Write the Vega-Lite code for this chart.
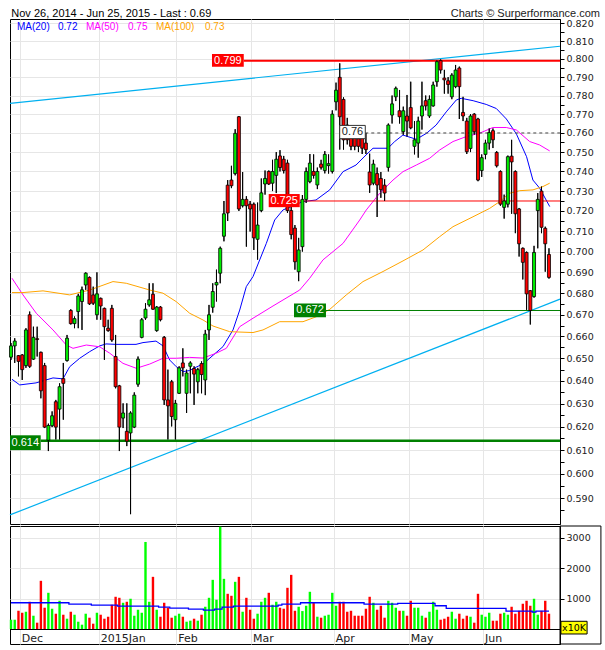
{
"$schema": "https://vega.github.io/schema/vega-lite/v6.json",
"background": "white",
"padding": {"left": 7, "top": 7, "right": 0, "bottom": 0},
"spacing": 0,
"config": {"view": {"stroke": "black", "strokeWidth": 1}, "text": {"font": "Liberation Sans"}, "scale": {"continuousPadding": 0}, "axis": {"labelOverlap": false}},
"datasets": {
"c": [
{"i":0,"o":0.6506,"h":0.657,"l":0.6494,"c":0.6557,"v":306,"m":863},
{"i":1,"o":0.6557,"h":0.6592,"l":0.648,"c":0.6579,"v":306,"m":863},
{"i":2,"o":0.6513,"h":0.6515,"l":0.642,"c":0.6487,"v":600,"m":863},
{"i":3,"o":0.6516,"h":0.652,"l":0.6404,"c":0.645,"v":535,"m":863},
{"i":4,"o":0.6468,"h":0.6638,"l":0.6458,"c":0.663,"v":568,"m":863},
{"i":5,"o":0.67,"h":0.6715,"l":0.6458,"c":0.6465,"v":896,"m":863},
{"i":6,"o":0.6497,"h":0.6645,"l":0.6494,"c":0.6596,"v":437,"m":863},
{"i":7,"o":0.659,"h":0.6645,"l":0.6509,"c":0.6586,"v":208,"m":863},
{"i":8,"o":0.6528,"h":0.6531,"l":0.6323,"c":0.6356,"v":1585,"m":863},
{"i":9,"o":0.6468,"h":0.648,"l":0.6194,"c":0.6198,"v":700,"m":863},
{"i":10,"o":0.6142,"h":0.6213,"l":0.6096,"c":0.6205,"v":1191,"m":863},
{"i":11,"o":0.6204,"h":0.6266,"l":0.6198,"c":0.6247,"v":667,"m":863},
{"i":12,"o":0.6308,"h":0.6316,"l":0.6145,"c":0.6198,"v":503,"m":863},
{"i":13,"o":0.6276,"h":0.6389,"l":0.6145,"c":0.6374,"v":929,"m":863},
{"i":14,"o":0.641,"h":0.648,"l":0.623,"c":0.6389,"v":470,"m":863},
{"i":15,"o":0.6491,"h":0.6607,"l":0.6486,"c":0.6592,"v":339,"m":863},
{"i":16,"o":0.672,"h":0.6726,"l":0.6655,"c":0.6659,"v":568,"m":820},
{"i":17,"o":0.6659,"h":0.6692,"l":0.6638,"c":0.6682,"v":470,"m":820},
{"i":18,"o":0.6715,"h":0.6798,"l":0.6638,"c":0.6788,"v":240,"m":820},
{"i":19,"o":0.6762,"h":0.6832,"l":0.663,"c":0.6817,"v":142,"m":820},
{"i":20,"o":0.684,"h":0.69,"l":0.6817,"c":0.6896,"v":503,"m":820},
{"i":21,"o":0.6876,"h":0.688,"l":0.6746,"c":0.6751,"v":372,"m":820},
{"i":22,"o":0.6793,"h":0.6832,"l":0.6746,"c":0.6754,"v":175,"m":787},
{"i":23,"o":0.67,"h":0.69,"l":0.6677,"c":0.6798,"v":535,"m":787},
{"i":24,"o":0.6777,"h":0.678,"l":0.6677,"c":0.6741,"v":470,"m":787},
{"i":25,"o":0.673,"h":0.6733,"l":0.6494,"c":0.6645,"v":339,"m":787},
{"i":26,"o":0.6638,"h":0.6677,"l":0.6622,"c":0.6627,"v":404,"m":787},
{"i":27,"o":0.673,"h":0.6746,"l":0.6576,"c":0.6584,"v":798,"m":787},
{"i":28,"o":0.6509,"h":0.6607,"l":0.6367,"c":0.6374,"v":1060,"m":787},
{"i":29,"o":0.6378,"h":0.6382,"l":0.6096,"c":0.6198,"v":1027,"m":754},
{"i":30,"o":0.6237,"h":0.6301,"l":0.6194,"c":0.6259,"v":863,"m":754},
{"i":31,"o":0.618,"h":0.6301,"l":0.6117,"c":0.6138,"v":896,"m":754},
{"i":32,"o":0.6173,"h":0.6266,"l":0.5835,"c":0.6259,"v":995,"m":754},
{"i":33,"o":0.6198,"h":0.6349,"l":0.6194,"c":0.6337,"v":437,"m":754},
{"i":34,"o":0.6385,"h":0.6509,"l":0.6374,"c":0.6497,"v":634,"m":754},
{"i":35,"o":0.6596,"h":0.6685,"l":0.6592,"c":0.6677,"v":535,"m":754},
{"i":36,"o":0.6685,"h":0.6754,"l":0.6677,"c":0.6726,"v":2863,"m":754},
{"i":37,"o":0.6746,"h":0.6848,"l":0.6738,"c":0.677,"v":896,"m":754},
{"i":38,"o":0.6796,"h":0.6848,"l":0.6723,"c":0.6726,"v":1716,"m":754},
{"i":39,"o":0.6627,"h":0.6741,"l":0.6622,"c":0.6736,"v":634,"m":754},
{"i":40,"o":0.6736,"h":0.6741,"l":0.667,"c":0.6677,"v":404,"m":721},
{"i":41,"o":0.6596,"h":0.6602,"l":0.6294,"c":0.6316,"v":863,"m":721},
{"i":42,"o":0.6316,"h":0.645,"l":0.6145,"c":0.629,"v":700,"m":721},
{"i":43,"o":0.6396,"h":0.6404,"l":0.6201,"c":0.6244,"v":372,"m":689},
{"i":44,"o":0.623,"h":0.6316,"l":0.6145,"c":0.6301,"v":437,"m":689},
{"i":45,"o":0.6345,"h":0.6465,"l":0.6342,"c":0.6458,"v":503,"m":689},
{"i":46,"o":0.648,"h":0.6546,"l":0.642,"c":0.6458,"v":404,"m":689},
{"i":47,"o":0.6345,"h":0.645,"l":0.6259,"c":0.6435,"v":240,"m":689},
{"i":48,"o":0.6465,"h":0.6487,"l":0.6345,"c":0.648,"v":273,"m":656},
{"i":49,"o":0.6455,"h":0.6465,"l":0.6294,"c":0.643,"v":339,"m":656},
{"i":50,"o":0.6396,"h":0.6458,"l":0.6345,"c":0.645,"v":273,"m":656},
{"i":51,"o":0.6477,"h":0.6487,"l":0.6345,"c":0.6428,"v":470,"m":656},
{"i":52,"o":0.6404,"h":0.663,"l":0.6337,"c":0.6611,"v":732,"m":623},
{"i":53,"o":0.663,"h":0.6746,"l":0.6584,"c":0.67,"v":1027,"m":623},
{"i":54,"o":0.6735,"h":0.6848,"l":0.671,"c":0.6809,"v":1617,"m":623},
{"i":55,"o":0.684,"h":0.6913,"l":0.6762,"c":0.6852,"v":962,"m":656},
{"i":56,"o":0.6896,"h":0.7024,"l":0.6848,"c":0.7016,"v":3366,"m":656},
{"i":57,"o":0.7075,"h":0.725,"l":0.705,"c":0.7186,"v":1650,"m":721},
{"i":58,"o":0.733,"h":0.7356,"l":0.715,"c":0.719,"v":1158,"m":721},
{"i":59,"o":0.7356,"h":0.7429,"l":0.7315,"c":0.7327,"v":1093,"m":721},
{"i":60,"o":0.7389,"h":0.762,"l":0.738,"c":0.7598,"v":1552,"m":754},
{"i":61,"o":0.7686,"h":0.769,"l":0.72,"c":0.721,"v":1716,"m":754},
{"i":62,"o":0.7226,"h":0.7397,"l":0.7218,"c":0.7258,"v":568,"m":754},
{"i":63,"o":0.7258,"h":0.7274,"l":0.7024,"c":0.7226,"v":1027,"m":754},
{"i":64,"o":0.7234,"h":0.725,"l":0.7098,"c":0.721,"v":634,"m":754},
{"i":65,"o":0.7234,"h":0.7242,"l":0.7008,"c":0.7067,"v":339,"m":754},
{"i":66,"o":0.706,"h":0.7242,"l":0.6961,"c":0.713,"v":503,"m":754},
{"i":67,"o":0.7202,"h":0.7364,"l":0.7194,"c":0.7291,"v":896,"m":754},
{"i":68,"o":0.7336,"h":0.7405,"l":0.7282,"c":0.7364,"v":1027,"m":754},
{"i":69,"o":0.74,"h":0.7405,"l":0.7331,"c":0.7336,"v":1191,"m":754},
{"i":70,"o":0.734,"h":0.746,"l":0.73,"c":0.74,"v":798,"m":754},
{"i":71,"o":0.738,"h":0.75,"l":0.729,"c":0.7463,"v":896,"m":754},
{"i":72,"o":0.748,"h":0.751,"l":0.74,"c":0.742,"v":700,"m":787},
{"i":73,"o":0.7463,"h":0.748,"l":0.739,"c":0.7405,"v":667,"m":820},
{"i":74,"o":0.7443,"h":0.746,"l":0.719,"c":0.7202,"v":1355,"m":820},
{"i":75,"o":0.7202,"h":0.7226,"l":0.706,"c":0.7083,"v":1781,"m":820},
{"i":76,"o":0.7115,"h":0.713,"l":0.6913,"c":0.6951,"v":600,"m":820},
{"i":77,"o":0.6903,"h":0.7067,"l":0.6858,"c":0.7008,"v":732,"m":820},
{"i":78,"o":0.7024,"h":0.728,"l":0.7,"c":0.7258,"v":590,"m":863},
{"i":79,"o":0.7258,"h":0.742,"l":0.724,"c":0.74,"v":765,"m":863},
{"i":80,"o":0.7348,"h":0.749,"l":0.734,"c":0.7443,"v":1224,"m":863},
{"i":81,"o":0.74,"h":0.7488,"l":0.7364,"c":0.738,"v":863,"m":863},
{"i":82,"o":0.7331,"h":0.742,"l":0.731,"c":0.74,"v":404,"m":863},
{"i":83,"o":0.7438,"h":0.746,"l":0.741,"c":0.7421,"v":372,"m":863},
{"i":84,"o":0.7405,"h":0.7505,"l":0.739,"c":0.7488,"v":437,"m":863},
{"i":85,"o":0.743,"h":0.7488,"l":0.7389,"c":0.744,"v":470,"m":863},
{"i":86,"o":0.74,"h":0.772,"l":0.739,"c":0.77,"v":1191,"m":863},
{"i":87,"o":0.7766,"h":0.787,"l":0.772,"c":0.7829,"v":765,"m":863},
{"i":88,"o":0.7899,"h":0.7976,"l":0.7513,"c":0.7686,"v":896,"m":863},
{"i":89,"o":0.7779,"h":0.779,"l":0.7513,"c":0.7564,"v":896,"m":863},
{"i":90,"o":0.7642,"h":0.768,"l":0.754,"c":0.7564,"v":568,"m":863},
{"i":91,"o":0.7581,"h":0.76,"l":0.751,"c":0.753,"v":600,"m":863},
{"i":92,"o":0.7581,"h":0.762,"l":0.751,"c":0.753,"v":437,"m":863},
{"i":93,"o":0.757,"h":0.76,"l":0.75,"c":0.753,"v":437,"m":863},
{"i":94,"o":0.758,"h":0.762,"l":0.749,"c":0.752,"v":437,"m":863},
{"i":95,"o":0.7547,"h":0.76,"l":0.749,"c":0.7513,"v":667,"m":820},
{"i":96,"o":0.7397,"h":0.7492,"l":0.7291,"c":0.7331,"v":1060,"m":820},
{"i":97,"o":0.734,"h":0.746,"l":0.733,"c":0.7438,"v":863,"m":820},
{"i":98,"o":0.7389,"h":0.742,"l":0.717,"c":0.7331,"v":634,"m":820},
{"i":99,"o":0.7364,"h":0.7397,"l":0.7266,"c":0.7307,"v":765,"m":820},
{"i":100,"o":0.733,"h":0.736,"l":0.725,"c":0.729,"v":372,"m":820},
{"i":101,"o":0.7421,"h":0.765,"l":0.74,"c":0.7642,"v":929,"m":820},
{"i":102,"o":0.7695,"h":0.78,"l":0.765,"c":0.7755,"v":863,"m":820},
{"i":103,"o":0.7793,"h":0.7848,"l":0.777,"c":0.7839,"v":700,"m":820},
{"i":104,"o":0.7718,"h":0.783,"l":0.765,"c":0.7686,"v":600,"m":841},
{"i":105,"o":0.7607,"h":0.774,"l":0.759,"c":0.7718,"v":600,"m":841},
{"i":106,"o":0.769,"h":0.7803,"l":0.7581,"c":0.7663,"v":437,"m":841},
{"i":107,"o":0.7735,"h":0.7875,"l":0.762,"c":0.7627,"v":929,"m":841},
{"i":108,"o":0.753,"h":0.7663,"l":0.7488,"c":0.7564,"v":700,"m":841},
{"i":109,"o":0.7547,"h":0.7686,"l":0.7471,"c":0.7663,"v":700,"m":841},
{"i":110,"o":0.769,"h":0.7875,"l":0.7618,"c":0.7744,"v":437,"m":841},
{"i":111,"o":0.7772,"h":0.78,"l":0.772,"c":0.7744,"v":372,"m":841},
{"i":112,"o":0.769,"h":0.78,"l":0.768,"c":0.7779,"v":568,"m":841},
{"i":113,"o":0.7744,"h":0.7875,"l":0.774,"c":0.7857,"v":896,"m":841},
{"i":114,"o":0.7875,"h":0.7994,"l":0.7848,"c":0.7985,"v":634,"m":765},
{"i":115,"o":0.7991,"h":0.7998,"l":0.792,"c":0.7939,"v":306,"m":765},
{"i":116,"o":0.7895,"h":0.794,"l":0.781,"c":0.7885,"v":339,"m":765},
{"i":117,"o":0.788,"h":0.79,"l":0.781,"c":0.786,"v":404,"m":678},
{"i":118,"o":0.7793,"h":0.7921,"l":0.778,"c":0.7911,"v":568,"m":678},
{"i":119,"o":0.7848,"h":0.7967,"l":0.784,"c":0.7939,"v":339,"m":678},
{"i":120,"o":0.795,"h":0.7958,"l":0.7674,"c":0.7848,"v":503,"m":678},
{"i":121,"o":0.7709,"h":0.7793,"l":0.7663,"c":0.769,"v":339,"m":678},
{"i":122,"o":0.7663,"h":0.768,"l":0.749,"c":0.7502,"v":437,"m":678},
{"i":123,"o":0.7519,"h":0.77,"l":0.75,"c":0.769,"v":404,"m":678},
{"i":124,"o":0.77,"h":0.7705,"l":0.759,"c":0.7607,"v":208,"m":678},
{"i":125,"o":0.7674,"h":0.768,"l":0.735,"c":0.7356,"v":1158,"m":678},
{"i":126,"o":0.7405,"h":0.7488,"l":0.7372,"c":0.7471,"v":470,"m":678},
{"i":127,"o":0.7488,"h":0.7564,"l":0.7463,"c":0.7547,"v":404,"m":678},
{"i":128,"o":0.7547,"h":0.7624,"l":0.7513,"c":0.7602,"v":535,"m":678},
{"i":129,"o":0.7612,"h":0.7624,"l":0.7521,"c":0.7564,"v":273,"m":678},
{"i":130,"o":0.7498,"h":0.7505,"l":0.7421,"c":0.7429,"v":273,"m":678},
{"i":131,"o":0.74,"h":0.7405,"l":0.7226,"c":0.7234,"v":503,"m":678},
{"i":132,"o":0.7218,"h":0.7282,"l":0.7162,"c":0.725,"v":535,"m":678},
{"i":133,"o":0.7234,"h":0.7482,"l":0.7218,"c":0.7476,"v":470,"m":590},
{"i":134,"o":0.7479,"h":0.7564,"l":0.7186,"c":0.7449,"v":732,"m":590},
{"i":135,"o":0.74,"h":0.7405,"l":0.709,"c":0.7186,"v":503,"m":590},
{"i":136,"o":0.721,"h":0.7215,"l":0.6976,"c":0.7038,"v":600,"m":590},
{"i":137,"o":0.7016,"h":0.702,"l":0.6866,"c":0.6948,"v":831,"m":590},
{"i":138,"o":0.6996,"h":0.7,"l":0.6723,"c":0.6798,"v":929,"m":590},
{"i":139,"o":0.6813,"h":0.6815,"l":0.6655,"c":0.672,"v":765,"m":590},
{"i":140,"o":0.6785,"h":0.7028,"l":0.678,"c":0.6996,"v":995,"m":557},
{"i":141,"o":0.7202,"h":0.729,"l":0.7016,"c":0.7258,"v":470,"m":590},
{"i":142,"o":0.73,"h":0.7323,"l":0.709,"c":0.7119,"v":600,"m":590},
{"i":143,"o":0.7114,"h":0.7122,"l":0.6903,"c":0.7038,"v":929,"m":590},
{"i":144,"o":0.6986,"h":0.7016,"l":0.687,"c":0.6876,"v":503,"m":590}
],
"ma": [
{"s":"MA20","i":0.27,"p":0.6407},{"s":"MA20","i":2.33,"p":0.6382},{"s":"MA20","i":6.69,"p":0.6391},{"s":"MA20","i":11.24,"p":0.6413},{"s":"MA20","i":13.92,"p":0.6409},{"s":"MA20","i":15.71,"p":0.6463},{"s":"MA20","i":18.39,"p":0.6501},{"s":"MA20","i":21.07,"p":0.6531},{"s":"MA20","i":23.74,"p":0.6557},{"s":"MA20","i":25.43,"p":0.6566},{"s":"MA20","i":28.1,"p":0.6564},{"s":"MA20","i":33.46,"p":0.6564},{"s":"MA20","i":35.33,"p":0.6572},{"s":"MA20","i":38.81,"p":0.6579},{"s":"MA20","i":40.69,"p":0.6557},{"s":"MA20","i":42.48,"p":0.6493},{"s":"MA20","i":44.25,"p":0.6463},{"s":"MA20","i":46.04,"p":0.6441},{"s":"MA20","i":47.83,"p":0.6446},{"s":"MA20","i":49.52,"p":0.6461},{"s":"MA20","i":51.39,"p":0.6475},{"s":"MA20","i":56.75,"p":0.6554},{"s":"MA20","i":59.42,"p":0.663},{"s":"MA20","i":61.22,"p":0.6722},{"s":"MA20","i":62.98,"p":0.6832},{"s":"MA20","i":64.78,"p":0.688},{"s":"MA20","i":66.57,"p":0.696},{"s":"MA20","i":68.34,"p":0.704},{"s":"MA20","i":70.58,"p":0.7155},{"s":"MA20","i":72.8,"p":0.7205},{"s":"MA20","i":78.16,"p":0.7247},{"s":"MA20","i":81.64,"p":0.7255},{"s":"MA20","i":85.31,"p":0.7306},{"s":"MA20","i":88.87,"p":0.7399},{"s":"MA20","i":92.35,"p":0.7433},{"s":"MA20","i":95.02,"p":0.7485},{"s":"MA20","i":96.9,"p":0.752},{"s":"MA20","i":100.9,"p":0.752},{"s":"MA20","i":102.7,"p":0.7555},{"s":"MA20","i":104.9,"p":0.7589},{"s":"MA20","i":108.5,"p":0.7567},{"s":"MA20","i":111.2,"p":0.7598},{"s":"MA20","i":113.8,"p":0.7642},{"s":"MA20","i":116.5,"p":0.7712},{"s":"MA20","i":119.2,"p":0.7776},{"s":"MA20","i":120.5,"p":0.7785},{"s":"MA20","i":123.7,"p":0.7772},{"s":"MA20","i":127.2,"p":0.7752},{"s":"MA20","i":129.9,"p":0.773},{"s":"MA20","i":132.6,"p":0.7674},{"s":"MA20","i":135.3,"p":0.7594},{"s":"MA20","i":138.0,"p":0.7476},{"s":"MA20","i":139.7,"p":0.7356},{"s":"MA20","i":141.5,"p":0.7315},{"s":"MA20","i":144.2,"p":0.7222},
{"s":"MA50","i":0.27,"p":0.6872},{"s":"MA50","i":3.21,"p":0.6793},{"s":"MA50","i":6.77,"p":0.6707},{"s":"MA50","i":11.24,"p":0.663},{"s":"MA50","i":14.8,"p":0.6561},{"s":"MA50","i":16.6,"p":0.6546},{"s":"MA50","i":20.16,"p":0.6561},{"s":"MA50","i":23.74,"p":0.6553},{"s":"MA50","i":26.42,"p":0.6524},{"s":"MA50","i":29.98,"p":0.6478},{"s":"MA50","i":33.54,"p":0.6456},{"s":"MA50","i":37.13,"p":0.6475},{"s":"MA50","i":40.69,"p":0.6501},{"s":"MA50","i":44.25,"p":0.6501},{"s":"MA50","i":47.83,"p":0.6505},{"s":"MA50","i":51.39,"p":0.6502},{"s":"MA50","i":54.95,"p":0.6524},{"s":"MA50","i":57.63,"p":0.6546},{"s":"MA50","i":61.22,"p":0.6645},{"s":"MA50","i":64.78,"p":0.6684},{"s":"MA50","i":70.13,"p":0.6741},{"s":"MA50","i":77.27,"p":0.6816},{"s":"MA50","i":79.95,"p":0.6872},{"s":"MA50","i":83.51,"p":0.696},{"s":"MA50","i":88.87,"p":0.704},{"s":"MA50","i":93.34,"p":0.7155},{"s":"MA50","i":95.1,"p":0.7205},{"s":"MA50","i":98.69,"p":0.7289},{"s":"MA50","i":102.25,"p":0.7356},{"s":"MA50","i":104.93,"p":0.7399},{"s":"MA50","i":108.5,"p":0.7433},{"s":"MA50","i":112.07,"p":0.7468},{"s":"MA50","i":114.75,"p":0.7511},{"s":"MA50","i":118.31,"p":0.7555},{"s":"MA50","i":121.87,"p":0.7581},{"s":"MA50","i":125.46,"p":0.7599},{"s":"MA50","i":129.0,"p":0.7629},{"s":"MA50","i":132.57,"p":0.7629},{"s":"MA50","i":135.25,"p":0.7616},{"s":"MA50","i":138.84,"p":0.7555},{"s":"MA50","i":141.51,"p":0.7537},{"s":"MA50","i":144.19,"p":0.7506},
{"s":"MA100","i":0.27,"p":0.6804},{"s":"MA100","i":3.21,"p":0.6804},{"s":"MA100","i":8.57,"p":0.6812},{"s":"MA100","i":15.71,"p":0.6793},{"s":"MA100","i":21.07,"p":0.6816},{"s":"MA100","i":27.3,"p":0.6856},{"s":"MA100","i":30.86,"p":0.6848},{"s":"MA100","i":37.13,"p":0.6816},{"s":"MA100","i":40.69,"p":0.6801},{"s":"MA100","i":44.25,"p":0.6761},{"s":"MA100","i":47.83,"p":0.6707},{"s":"MA100","i":51.39,"p":0.6676},{"s":"MA100","i":54.07,"p":0.6648},{"s":"MA100","i":58.54,"p":0.6622},{"s":"MA100","i":64.78,"p":0.6618},{"s":"MA100","i":67.45,"p":0.663},{"s":"MA100","i":71.92,"p":0.6668},{"s":"MA100","i":78.16,"p":0.6668},{"s":"MA100","i":81.72,"p":0.6691},{"s":"MA100","i":85.31,"p":0.6725},{"s":"MA100","i":89.75,"p":0.6793},{"s":"MA100","i":94.22,"p":0.6856},{"s":"MA100","i":99.57,"p":0.6904},{"s":"MA100","i":104.93,"p":0.6955},{"s":"MA100","i":110.28,"p":0.7008},{"s":"MA100","i":114.75,"p":0.7073},{"s":"MA100","i":118.31,"p":0.7122},{"s":"MA100","i":123.66,"p":0.7171},{"s":"MA100","i":128.13,"p":0.7213},{"s":"MA100","i":130.81,"p":0.7247},{"s":"MA100","i":133.48,"p":0.7289},{"s":"MA100","i":136.16,"p":0.7302},{"s":"MA100","i":139.72,"p":0.7306},{"s":"MA100","i":142.4,"p":0.7323},{"s":"MA100","i":144.19,"p":0.734}
]
},
"vconcat": [
{
"width": 550, "height": 505,
"layer": [
{"data": {"name": "c"}, "mark": {"type": "rule", "color": "black", "strokeWidth": 1},
 "encoding": {
  "x": {"field": "i", "type": "quantitative", "scale": {"domain": [-0.268, 146.95], "nice": false, "zero": false, "padding": 0},
   "axis": {"values": [2.33, 23.47, 44.25, 64.24, 86.38, 106.45, 126.34], "grid": true, "gridColor": "#e6e6e6", "labels": false, "ticks": false, "domain": false, "title": null}},
  "y": {"field": "l", "type": "quantitative", "scale": {"type": "log", "domain": [0.57954, 0.82249], "nice": false, "padding": 0},
   "axis": {"orient": "right", "title": null,
    "values": [0.585,0.59,0.595,0.6,0.605,0.61,0.615,0.62,0.625,0.63,0.635,0.64,0.645,0.65,0.655,0.66,0.665,0.67,0.675,0.68,0.685,0.69,0.695,0.7,0.705,0.71,0.715,0.72,0.725,0.73,0.735,0.74,0.745,0.75,0.755,0.76,0.765,0.77,0.775,0.78,0.785,0.79,0.795,0.8,0.805,0.81,0.815,0.82],
    "grid": true, "gridColor": "#e6e6e6",
    "gridOpacity": {"condition": {"test": "round(datum.value*200)%2==0", "value": 1}, "value": 0},
    "labelExpr": "round(datum.value*200)%2==0 ? format(datum.value, '.3f') : ''",
    "tickSize": 4, "tickColor": "black", "domainColor": "black", "labelFont": "DejaVu Sans", "labelFontSize": 9.5, "labelColor": "#222", "labelPadding": 2, "labelOverlap": false, "labelFlush": false, "labelBound": false}},
  "y2": {"field": "h"}}},
{"data": {"values": [{}]}, "mark": {"type": "rule", "color": "#00b0f0", "strokeWidth": 1.2},
 "encoding": {"x": {"datum": -0.268}, "y": {"datum": 0.7758}, "x2": {"datum": 146.95}, "y2": {"datum": 0.8071}}},
{"data": {"values": [{}]}, "mark": {"type": "rule", "color": "#00b0f0", "strokeWidth": 1.2},
 "encoding": {"x": {"datum": -0.268}, "y": {"datum": 0.5832}, "x2": {"datum": 146.95}, "y2": {"datum": 0.6773}}},
{"data": {"name": "ma"}, "mark": {"type": "line", "strokeWidth": 1},
 "encoding": {"x": {"field": "i", "type": "quantitative"}, "y": {"field": "p", "type": "quantitative"},
  "color": {"field": "s", "type": "nominal", "scale": {"domain": ["MA20", "MA50", "MA100"], "range": ["#0000ff", "#ff00ff", "#ffa500"]}, "legend": null}}},
{"data": {"values": [{}]}, "mark": {"type": "rule", "color": "#ff0000", "strokeWidth": 2},
 "encoding": {"x": {"datum": 62.3}, "x2": {"datum": 146.95}, "y": {"datum": 0.799}}},
{"data": {"values": [{}]}, "mark": {"type": "rule", "color": "#ff0000", "strokeWidth": 1},
 "encoding": {"x": {"datum": 77.28}, "x2": {"datum": 146.95}, "y": {"datum": 0.725}}},
{"data": {"values": [{}]}, "mark": {"type": "rule", "color": "#444444", "strokeWidth": 1, "strokeDash": [3, 3]},
 "encoding": {"x": {"datum": 94.83}, "x2": {"datum": 146.95}, "y": {"datum": 0.76}}},
{"data": {"values": [{}]}, "mark": {"type": "rule", "color": "#008000", "strokeWidth": 1},
 "encoding": {"x": {"datum": 84.31}, "x2": {"datum": 146.95}, "y": {"datum": 0.672}}},
{"data": {"values": [{}]}, "mark": {"type": "rule", "color": "#008000", "strokeWidth": 2.5},
 "encoding": {"x": {"datum": 7.95}, "x2": {"datum": 146.95}, "y": {"datum": 0.614}}},
{"data": {"name": "c"}, "mark": {"type": "rule", "color": "black", "strokeWidth": 1},
 "encoding": {"x": {"field": "i", "type": "quantitative"}, "y": {"field": "l", "type": "quantitative"}, "y2": {"field": "h"}}},
{"data": {"name": "c"}, "mark": {"type": "bar", "width": 3, "stroke": "black", "strokeWidth": 0.8},
 "encoding": {"x": {"field": "i", "type": "quantitative"}, "y": {"field": "o", "type": "quantitative"}, "y2": {"field": "c"},
  "fill": {"condition": {"test": "datum.c >= datum.o", "value": "#00ee00"}, "value": "#ff0000"}}},
{"data": {"values": [{}]}, "mark": {"type": "rect", "fill": "#ff0000"},
 "encoding": {"x": {"datum": 53.8}, "x2": {"datum": 62.3}, "y": {"datum": 0.8028}, "y2": {"datum": 0.7957}}},
{"data": {"values": [{}]}, "mark": {"type": "text", "text": "0.799", "color": "white", "fontSize": 11, "align": "center", "baseline": "middle"},
 "encoding": {"x": {"datum": 58.05}, "y": {"datum": 0.7991}}},
{"data": {"values": [{}]}, "mark": {"type": "rect", "fill": "#ff0000"},
 "encoding": {"x": {"datum": 68.98}, "x2": {"datum": 77.28}, "y": {"datum": 0.7285}, "y2": {"datum": 0.7219}}},
{"data": {"values": [{}]}, "mark": {"type": "text", "text": "0.725", "color": "white", "fontSize": 11, "align": "center", "baseline": "middle"},
 "encoding": {"x": {"datum": 73.13}, "y": {"datum": 0.7251}}},
{"data": {"values": [{}]}, "mark": {"type": "rect", "fill": "white", "stroke": "#333333", "strokeWidth": 1},
 "encoding": {"x": {"datum": 87.98}, "x2": {"datum": 94.83}, "y": {"datum": 0.764}, "y2": {"datum": 0.757}}},
{"data": {"values": [{}]}, "mark": {"type": "text", "text": "0.76", "color": "#222222", "fontSize": 11, "align": "center", "baseline": "middle"},
 "encoding": {"x": {"datum": 91.4}, "y": {"datum": 0.7603}}},
{"data": {"values": [{}]}, "mark": {"type": "rect", "fill": "#008000"},
 "encoding": {"x": {"datum": 75.75}, "x2": {"datum": 84.31}, "y": {"datum": 0.6753}, "y2": {"datum": 0.6689}}},
{"data": {"values": [{}]}, "mark": {"type": "text", "text": "0.672", "color": "white", "fontSize": 11, "align": "center", "baseline": "middle"},
 "encoding": {"x": {"datum": 80.03}, "y": {"datum": 0.6721}}},
{"data": {"values": [{}]}, "mark": {"type": "rect", "fill": "#008000"},
 "encoding": {"x": {"datum": -0.268}, "x2": {"datum": 7.95}, "y": {"datum": 0.6163}, "y2": {"datum": 0.61}}},
{"data": {"values": [{}]}, "mark": {"type": "text", "text": "0.614", "color": "white", "fontSize": 11, "align": "center", "baseline": "middle"},
 "encoding": {"x": {"datum": 3.84}, "y": {"datum": 0.6132}}},
{"data": {"values": [{}]}, "mark": {"type": "text", "text": "MA(20)", "color": "#0000ff", "fontSize": 10, "align": "left", "baseline": "middle"},
 "encoding": {"x": {"datum": 1.6}, "y": {"datum": 0.81794}}},
{"data": {"values": [{}]}, "mark": {"type": "text", "text": "0.72", "color": "#0000ff", "fontSize": 10, "align": "left", "baseline": "middle"},
 "encoding": {"x": {"datum": 12.58}, "y": {"datum": 0.81794}}},
{"data": {"values": [{}]}, "mark": {"type": "text", "text": "MA(50)", "color": "#ff00ff", "fontSize": 10, "align": "left", "baseline": "middle"},
 "encoding": {"x": {"datum": 20.07}, "y": {"datum": 0.81794}}},
{"data": {"values": [{}]}, "mark": {"type": "text", "text": "0.75", "color": "#ff00ff", "fontSize": 10, "align": "left", "baseline": "middle"},
 "encoding": {"x": {"datum": 31.32}, "y": {"datum": 0.81794}}},
{"data": {"values": [{}]}, "mark": {"type": "text", "text": "MA(100)", "color": "#ffa500", "fontSize": 10, "align": "left", "baseline": "middle"},
 "encoding": {"x": {"datum": 38.81}, "y": {"datum": 0.81794}}},
{"data": {"values": [{}]}, "mark": {"type": "text", "text": "0.73", "color": "#ffa500", "fontSize": 10, "align": "left", "baseline": "middle"},
 "encoding": {"x": {"datum": 51.93}, "y": {"datum": 0.81794}}},
{"data": {"values": [{}]}, "mark": {"type": "text", "text": "Nov 26, 2014 - Jun 25, 2015 - Last : 0.69", "color": "#000000", "fontSize": 11, "align": "left", "baseline": "alphabetic"},
 "encoding": {"x": {"datum": 0.08}, "y": {"datum": 0.82381}}},
{"data": {"values": [{}]}, "mark": {"type": "text", "text": "Charts © Surperformance.com", "color": "#222222", "fontSize": 11, "align": "right", "baseline": "alphabetic"},
 "encoding": {"x": {"datum": 157.66}, "y": {"datum": 0.82381}}}
]
},
{
"width": 550, "height": 118,
"layer": [
{"data": {"name": "c"}, "mark": {"type": "bar", "width": 2.4},
 "encoding": {
  "x": {"field": "i", "type": "quantitative", "scale": {"domain": [-0.268, 146.95], "nice": false, "zero": false, "padding": 0},
   "axis": {"values": [2.33, 23.47, 44.25, 64.24, 86.38, 106.45, 126.34],
    "labelExpr": "datum.value < 10 ? 'Dec' : datum.value < 30 ? '2015Jan' : datum.value < 50 ? 'Feb' : datum.value < 70 ? 'Mar' : datum.value < 90 ? 'Apr' : datum.value < 110 ? 'May' : 'Jun'",
    "grid": true, "gridColor": "#e6e6e6", "ticks": false, "domain": true, "domainColor": "black", "offset": -15,
    "labelAlign": "left", "labelFont": "DejaVu Sans", "labelFontSize": 11, "labelColor": "#222", "labelPadding": 3, "labelOffset": 1.5,
    "labelFlush": false, "labelOverlap": false, "labelBound": false, "title": null}},
  "y": {"field": "v", "type": "quantitative", "scale": {"domain": [-493, 3388], "nice": false, "zero": false, "padding": 0},
   "axis": {"orient": "right", "title": null, "format": "d",
    "values": [1000, 2000, 3000],
    "grid": true, "gridColor": "#e6e6e6",
    "tickSize": 4, "tickColor": "black", "domainColor": "black", "labelFont": "DejaVu Sans", "labelFontSize": 9.5, "labelColor": "#222", "labelPadding": 2, "labelOverlap": false, "labelFlush": false, "labelBound": false}},
  "y2": {"datum": 0},
  "fill": {"condition": {"test": "datum.c >= datum.o", "value": "#00ff00"}, "value": "#ff0000"}}},
{"data": {"name": "c"}, "mark": {"type": "line", "color": "#0000ff", "strokeWidth": 1.3, "interpolate": "step"},
 "encoding": {"x": {"field": "i", "type": "quantitative"}, "y": {"field": "m", "type": "quantitative"}}},
{"data": {"values": [{}]}, "mark": {"type": "rect", "filled": false, "stroke": "black", "strokeWidth": 1},
 "encoding": {"x": {"datum": 146.95}, "x2": {"datum": 157.9}, "y": {"datum": -493}, "y2": {"datum": 3388}}},
{"data": {"values": [{}]}, "mark": {"type": "rect", "fill": "#ffff00", "stroke": "black", "strokeWidth": 1},
 "encoding": {"x": {"datum": 147.2}, "x2": {"datum": 154.2}, "y": {"datum": 254}, "y2": {"datum": -164}}},
{"data": {"values": [{}]}, "mark": {"type": "text", "text": "x10K", "color": "black", "font": "DejaVu Sans", "fontSize": 9.5, "align": "center", "baseline": "middle"},
 "encoding": {"x": {"datum": 150.7}, "y": {"datum": 45}}}
]
}
]
}
